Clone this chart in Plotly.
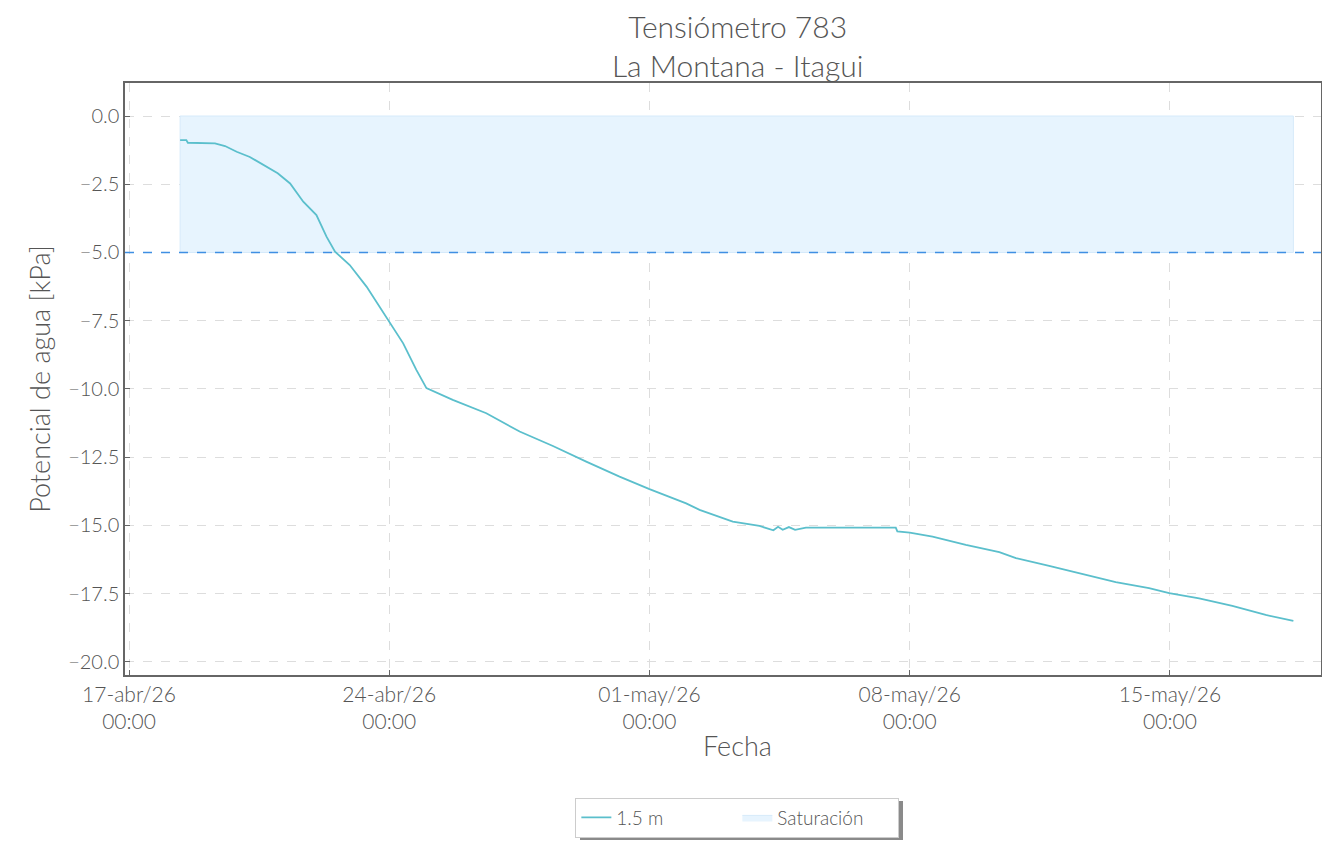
import plotly.graph_objects as go

# ---- data ----
fechas = [
    "2026-04-18 09:00", "2026-04-18 13:00", "2026-04-18 14:00", "2026-04-19 07:30",
    "2026-04-19 14:00", "2026-04-19 21:30", "2026-04-20 06:00", "2026-04-20 14:30",
    "2026-04-21 00:00", "2026-04-21 08:00", "2026-04-21 16:30", "2026-04-22 01:00",
    "2026-04-22 07:30", "2026-04-22 13:00", "2026-04-22 22:30", "2026-04-23 09:20",
    "2026-04-23 22:00", "2026-04-24 09:00", "2026-04-24 17:30", "2026-04-25 00:00",
    "2026-04-25 17:00", "2026-04-26 14:40", "2026-04-27 12:10", "2026-04-28 09:40",
    "2026-04-29 07:10", "2026-04-30 04:40", "2026-05-01 00:00", "2026-05-01 23:40",
    "2026-05-02 08:20", "2026-05-03 05:45", "2026-05-03 23:00", "2026-05-04 08:00",
    "2026-05-04 11:00", "2026-05-04 14:00", "2026-05-04 18:00", "2026-05-04 22:00",
    "2026-05-05 05:00", "2026-05-07 15:00", "2026-05-07 16:00", "2026-05-08 00:00",
    "2026-05-08 14:45", "2026-05-09 12:15", "2026-05-10 09:50", "2026-05-10 20:35",
    "2026-05-11 18:00", "2026-05-12 15:30", "2026-05-13 13:00", "2026-05-14 10:30",
    "2026-05-14 23:30", "2026-05-15 18:50", "2026-05-16 16:15", "2026-05-17 13:50",
    "2026-05-18 07:40",
]
potencial = [
    -0.88, -0.88, -0.98, -1.00,
    -1.10, -1.31, -1.50, -1.79,
    -2.10, -2.47, -3.14, -3.63,
    -4.42, -4.97, -5.46, -6.25,
    -7.35, -8.33, -9.30, -9.97,
    -10.40, -10.89, -11.56, -12.09,
    -12.66, -13.21, -13.67, -14.19,
    -14.43, -14.86, -15.02, -15.18,
    -15.05, -15.16, -15.06, -15.16,
    -15.08, -15.08, -15.22, -15.26,
    -15.41, -15.71, -15.98, -16.20,
    -16.48, -16.78, -17.08, -17.30,
    -17.48, -17.67, -17.95, -18.28,
    -18.50,
]
sat_inicio = "2026-04-18 09:00"
sat_fin = "2026-05-18 07:40"
sat_sup = 0.0
sat_inf = -5.0

tick_fechas = ["2026-04-17", "2026-04-24", "2026-05-01", "2026-05-08", "2026-05-15"]
tick_textos = ["17-abr/26<br>00:00", "24-abr/26<br>00:00", "01-may/26<br>00:00",
               "08-may/26<br>00:00", "15-may/26<br>00:00"]

FONT = "Lato"
GRIS = "#555555"

fig = go.Figure()

fig.add_trace(go.Scatter(
    x=[sat_inicio, sat_fin, sat_fin, sat_inicio, sat_inicio],
    y=[sat_sup, sat_sup, sat_inf, sat_inf, sat_sup],
    fill="toself", fillcolor="rgba(231,244,254,1)",
    line=dict(color="rgba(214,234,250,1)", width=1),
    mode="lines", name="Saturación", hoverinfo="skip",
))

fig.add_trace(go.Scatter(
    x=fechas, y=potencial, mode="lines", name="1.5 m",
    line=dict(color="#5bbfcc", width=1.8),
))

fig.add_shape(type="line", xref="paper", x0=0, x1=1, yref="y", y0=sat_inf, y1=sat_inf,
              line=dict(color="#3f8fe3", width=1.5, dash="dash"), layer="above")

# legend drop shadow (right edge)
fig.add_shape(type="rect", xref="paper", yref="paper",
              x0=(580 - 125) / 1196, x1=(903 - 125) / 1196,
              y0=(675 - 840) / 592, y1=(675 - 801) / 592,
              fillcolor="#8a8a8a", line=dict(width=0), layer="below")

fig.add_annotation(text="Fecha", xref="paper", yref="paper", x=0.512, y=-0.088,
                   xanchor="center", yanchor="top", showarrow=False,
                   font=dict(size=27, color=GRIS, family=FONT, weight=300))

fig.update_layout(
    width=1322, height=842,
    margin=dict(l=125, r=1, t=83, b=167, autoexpand=False),
    paper_bgcolor="white", plot_bgcolor="white",
    font=dict(family=FONT, color=GRIS, size=20, weight=300),
    title=dict(text="Tensiómetro 783<br>La Montana - Itagui", x=0.558, xanchor="center",
               yref="container", y=0.955, yanchor="middle",
               font=dict(size=30, color=GRIS, family=FONT, weight=300)),
    showlegend=True,
    legend=dict(orientation="h", x=0.512, xanchor="center", y=-0.207, yanchor="top",
                traceorder="reversed",
                bordercolor="#cccccc", borderwidth=1, bgcolor="white",
                font=dict(size=19, color=GRIS, family=FONT, weight=300),
                entrywidth=116, entrywidthmode="pixels"),
    xaxis=dict(
        range=["2026-04-16 21:25", "2026-05-19 01:30"],
        tickvals=tick_fechas, ticktext=tick_textos,
        showgrid=True, gridcolor="#dddddd", griddash="dash", gridwidth=1,
        showline=True, linecolor="#666666", linewidth=1.5, mirror=True,
        ticks="inside", ticklen=5, tickcolor="#666666",
        tickfont=dict(size=21, color=GRIS, family=FONT, weight=300),
        zeroline=False,
    ),
    yaxis=dict(
        range=[-20.48, 1.21], dtick=2.5, tick0=0, tickformat=".1f",
        showgrid=True, gridcolor="#dddddd", griddash="dash", gridwidth=1,
        showline=True, linecolor="#666666", linewidth=1.5, mirror=True,
        ticks="inside", ticklen=5, tickcolor="#666666",
        tickfont=dict(size=20, color=GRIS, family=FONT, weight=300),
        title=dict(text="Potencial de agua [kPa]", font=dict(size=27, color=GRIS, family=FONT, weight=300), standoff=10),
        zeroline=False,
    ),
)

fig.write_html("out.html", config={"displayModeBar": False},
               post_script="document.body.style.margin='0';document.body.style.overflow='hidden';")
